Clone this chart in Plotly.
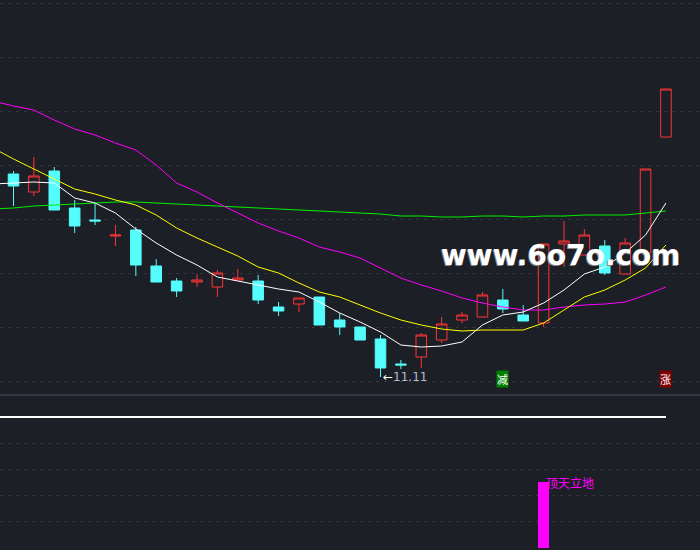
import plotly.graph_objects as go

# trading days, left to right (day 0 is cut by the left edge)
days = list(range(34))

open_ = [13.15, 13.14, 12.96, 13.17, 12.80, 12.68, 12.52, 12.58, 12.22, 12.07,
         12.06, 12.01, 12.08, 12.07, 11.81, 11.84, 11.91, 11.68, 11.61, 11.49,
         11.24, 11.31, 11.48, 11.68, 11.71, 11.88, 11.73, 11.65, 12.44, 12.33,
         12.42, 12.14, 12.35, 13.51]
high = [13.17, 13.17, 13.31, 13.21, 12.88, 12.85, 12.63, 12.61, 12.29, 12.10,
        12.14, 12.18, 12.19, 12.13, 11.86, 11.90, 11.91, 11.75, 11.61, 11.53,
        11.28, 11.55, 11.71, 11.76, 11.96, 11.99, 11.83, 12.44, 12.67, 12.59,
        12.48, 12.50, 13.19, 13.99]
low = [13.02, 12.82, 12.92, 12.78, 12.55, 12.63, 12.42, 12.12, 12.06, 11.91,
       12.01, 11.91, 12.08, 11.84, 11.72, 11.76, 11.63, 11.53, 11.48, 11.11,
       11.19, 11.20, 11.45, 11.65, 11.71, 11.75, 11.67, 11.61, 12.21, 12.33,
       12.13, 12.14, 12.32, 13.51]
close = [13.03, 13.02, 13.12, 12.78, 12.62, 12.67, 12.53, 12.23, 12.06, 11.97,
         12.08, 12.15, 12.10, 11.88, 11.77, 11.90, 11.63, 11.61, 11.48, 11.20,
         11.23, 11.53, 11.64, 11.73, 11.93, 11.79, 11.67, 12.44, 12.47, 12.53,
         12.15, 12.45, 13.19, 13.99]

ma_white = [13.04, 13.05, 13.06, 13.05, 12.90, 12.85, 12.75, 12.59, 12.45, 12.33,
            12.23, 12.11, 12.07, 12.03, 11.99, 11.96, 11.86, 11.75, 11.66, 11.56,
            11.43, 11.41, 11.42, 11.46, 11.63, 11.73, 11.76, 11.85, 11.98, 12.14,
            12.21, 12.35, 12.53, 12.85]
ma_yellow = [13.40, 13.29, 13.19, 13.09, 12.99, 12.94, 12.88, 12.83, 12.73, 12.60,
             12.50, 12.41, 12.32, 12.21, 12.15, 12.05, 11.96, 11.91, 11.83, 11.75,
             11.68, 11.63, 11.59, 11.57, 11.58, 11.58, 11.58, 11.65, 11.78, 11.91,
             11.98, 12.08, 12.20, 12.43]
ma_magenta = [13.87, 13.82, 13.78, 13.68, 13.59, 13.53, 13.45, 13.38, 13.23, 13.05,
              12.96, 12.85, 12.75, 12.65, 12.57, 12.50, 12.41, 12.36, 12.30, 12.20,
              12.10, 12.03, 11.97, 11.90, 11.85, 11.81, 11.78, 11.78, 11.81, 11.83,
              11.84, 11.86, 11.93, 12.01]
ma_green = [12.79, 12.80, 12.82, 12.83, 12.84, 12.85, 12.86, 12.86, 12.85, 12.84,
            12.83, 12.82, 12.81, 12.80, 12.79, 12.78, 12.77, 12.76, 12.75, 12.74,
            12.72, 12.72, 12.71, 12.71, 12.72, 12.72, 12.71, 12.72, 12.72, 12.73,
            12.73, 12.73, 12.75, 12.77]

# lower indicator panel
sub_line = [131, 131, 131, 131, 131, 131, 131, 131, 131, 131, 131, 131, 131, 131,
            131, 131, 131, 131, 131, 131, 131, 131, 131, 131, 131, 131, 131, 131,
            131, 131, 131, 131, 131, 131]
signal = [None] * 27 + [66] + [None] * 6
sub_grid = [27, 53, 79, 105]

low_day, low_price = 19, 11.11
cut_day, rise_day = 25, 33

BG = "#1c1f26"
GRID = "#31353e"
RED = "#ff3434"
CYAN = "#54fcfc"
MAG = "#ff00ff"

fig = go.Figure()

fig.add_trace(go.Candlestick(
    x=days, open=open_, high=high, low=low, close=close,
    increasing=dict(line=dict(color=RED, width=1), fillcolor="rgba(0,0,0,0)"),
    decreasing=dict(line=dict(color=CYAN, width=1), fillcolor=CYAN),
    whiskerwidth=0, hoverinfo="skip", showlegend=False,
))

for vals, col in [(ma_green, "#00f000"), (ma_magenta, MAG),
                  (ma_yellow, "#ffff00"), (ma_white, "#ffffff")]:
    fig.add_trace(go.Scatter(x=days, y=vals, mode="lines",
                             line=dict(color=col, width=1), hoverinfo="skip",
                             showlegend=False))

fig.add_trace(go.Scatter(x=days, y=sub_line, mode="lines", xaxis="x2", yaxis="y2",
                         line=dict(color="#ffffff", width=2), hoverinfo="skip",
                         showlegend=False))
fig.add_trace(go.Bar(x=days, y=signal, width=0.54, xaxis="x2", yaxis="y2",
                     marker=dict(color=MAG, line_width=0), hoverinfo="skip",
                     showlegend=False))

split = 155 / 550
xr = [0.338, 34.67]

fig.update_layout(
    width=700, height=550,
    margin=dict(l=0, r=0, t=0, b=0),
    paper_bgcolor=BG, plot_bgcolor=BG,
    showlegend=False, boxgap=0.26, bargap=0,
    xaxis=dict(range=xr, visible=False, rangeslider=dict(visible=False)),
    yaxis=dict(domain=[split, 1], range=[10.93, 14.88], tick0=14.85, dtick=0.54,
               showgrid=True, gridcolor=GRID, griddash="3px,5px", gridwidth=1,
               showticklabels=False, zeroline=False, showline=False, ticks=""),
    xaxis2=dict(range=xr, visible=False, anchor="y2"),
    yaxis2=dict(domain=[0, split], range=[-2, 153], tickmode="array",
                tickvals=sub_grid, showgrid=True, gridcolor=GRID,
                griddash="3px,5px", showticklabels=False, zeroline=False,
                showline=False, ticks="", anchor="x2"),
    shapes=[dict(type="line", xref="paper", yref="paper", x0=0, x1=1,
                 y0=split, y1=split, line=dict(color="#3d414d", width=1.5))],
)

cjk = "Noto Sans CJK SC"
fig.add_annotation(x=low_day, y=low_price, xanchor="left", yanchor="middle",
                   text="<span style='color:#ffffff'>←</span>11.11",
                   showarrow=False, font=dict(family="DejaVu Sans", size=12,
                                              color="#b4bccb"))
fig.add_annotation(x=cut_day, y=1 - 387.5 / 550, yref="paper", text="减",
                   showarrow=False, bgcolor="#008000", borderpad=0,
                   font=dict(family=cjk, size=11, color="#ffffff"))
fig.add_annotation(x=rise_day, y=1 - 387.5 / 550, yref="paper", text="涨",
                   showarrow=False, bgcolor="#800000", borderpad=0,
                   font=dict(family=cjk, size=11, color="#ffffff"))
fig.add_annotation(x=27, y=66, xref="x2", yref="y2", xanchor="left",
                   yanchor="middle", text="顶天立地", showarrow=False,
                   font=dict(family=cjk, size=12, color=MAG))

# watermark
for dx, col in [(-1, "#8a8a8a"), (0, "#ffffff")]:
    fig.add_annotation(x=0.802, y=1 - 255 / 550, xref="paper", yref="paper",
                       xanchor="center", yanchor="middle",
                       xshift=dx, yshift=-abs(dx), text="<b>www.6o7o.com</b>",
                       showarrow=False,
                       font=dict(family="DejaVu Sans", size=28, color=col))

fig.write_html("out.html", config={"displayModeBar": False},
               post_script="document.body.style.margin='0';"
                           "document.body.style.overflow='hidden';")
